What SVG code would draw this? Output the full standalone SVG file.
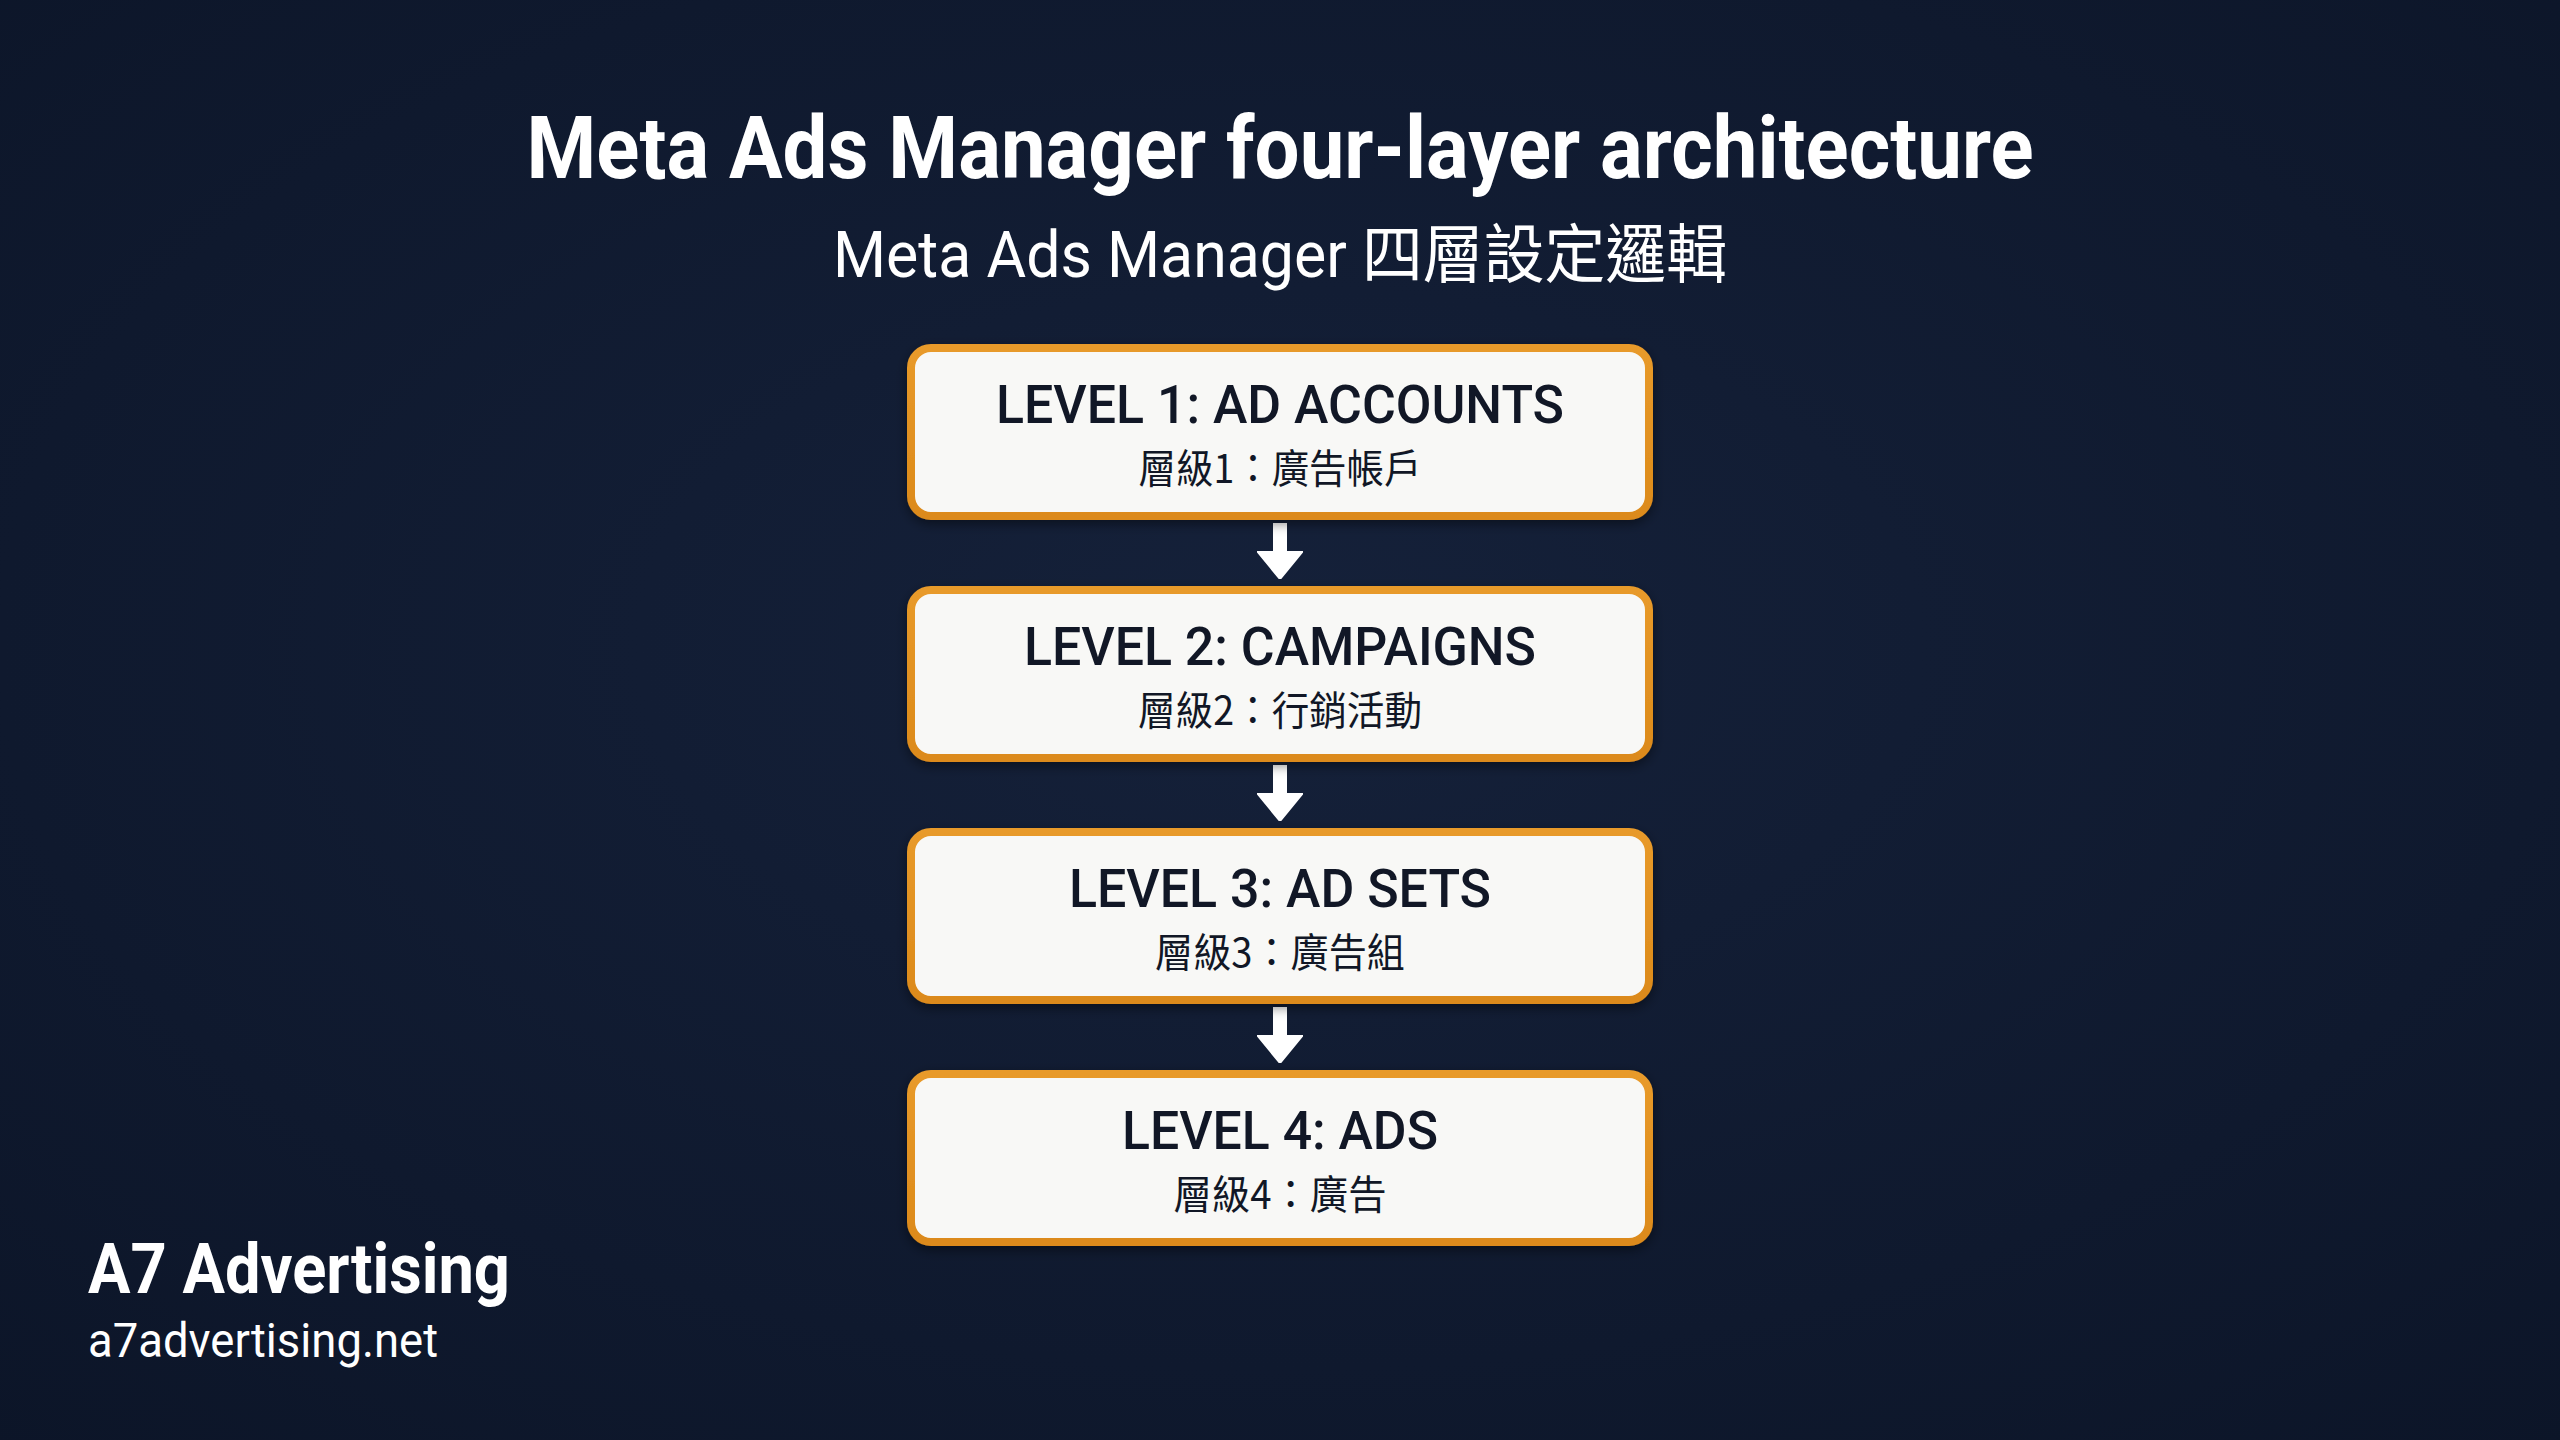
<svg xmlns="http://www.w3.org/2000/svg" width="2560" height="1440" viewBox="0 0 2560 1440">
  <defs>
    <radialGradient id="bg" cx="50%" cy="45%" r="75%">
      <stop offset="0%" stop-color="#15213A"/>
      <stop offset="100%" stop-color="#0C1528"/>
    </radialGradient>
    <linearGradient id="edge" x1="0" y1="0" x2="0" y2="1">
      <stop offset="0%" stop-color="#E89A2A"/>
      <stop offset="100%" stop-color="#DC8A1A"/>
    </linearGradient>
    <filter id="shadow" x="-10%" y="-20%" width="120%" height="140%">
      <feDropShadow dx="0" dy="4" stdDeviation="6" flood-color="#000000" flood-opacity="0.45"/>
    </filter>
    <marker id="arrowhead" viewBox="0 0 28 46" refX="2" refY="23" markerWidth="28" markerHeight="46" markerUnits="userSpaceOnUse" orient="auto">
      <path d="M0,0 L28,23 L0,46 Z" fill="#FFFFFF" stroke="#FFFFFF" stroke-width="2" stroke-linejoin="round"/>
    </marker>
    <style>
      .title { font-family: Roboto, "Liberation Sans", "Noto Sans CJK TC", sans-serif; font-weight: 700; fill: #FFFFFF; }
      .subtitle { font-family: Roboto, "Liberation Sans", "Noto Sans CJK TC", sans-serif; font-weight: 400; fill: #FFFFFF; }
      .box { fill: #F8F8F6; stroke: url(#edge); stroke-width: 8; }
      .lvl { font-family: Roboto, "Liberation Sans", sans-serif; font-weight: 500; font-size: 54px; fill: #111726; text-anchor: middle; }
      .zh { font-family: "Noto Sans CJK TC", "Noto Sans CJK SC", sans-serif; font-weight: 400; font-size: 40px; fill: #111726; text-anchor: middle; }
      .conn { stroke: #FFFFFF; stroke-width: 14; fill: none; }
      .brand { font-family: Roboto, "Liberation Sans", sans-serif; font-weight: 700; font-size: 70px; fill: #FFFFFF; }
      .url { font-family: Roboto, "Liberation Sans", sans-serif; font-weight: 400; font-size: 48px; fill: #FFFFFF; }
    </style>
  </defs>

  <rect x="0" y="0" width="2560" height="1440" fill="url(#bg)"/>

  <g id="title">
    <text class="title" x="1280" y="178" font-size="88" text-anchor="middle" textLength="1507" lengthAdjust="spacingAndGlyphs">Meta Ads Manager four-layer architecture</text>
    <text class="subtitle" x="1280" y="277" font-size="64" text-anchor="middle" textLength="894" lengthAdjust="spacingAndGlyphs">Meta Ads Manager 四層設定邏輯</text>
  </g>

  <g id="connectors">
    <line class="conn" x1="1280" y1="523" x2="1280" y2="553" marker-end="url(#arrowhead)"/>
    <line class="conn" x1="1280" y1="765" x2="1280" y2="795" marker-end="url(#arrowhead)"/>
    <line class="conn" x1="1280" y1="1007" x2="1280" y2="1037" marker-end="url(#arrowhead)"/>
  </g>

  <g id="level1">
    <rect class="box" x="911" y="348" width="738" height="168" rx="20" filter="url(#shadow)"/>
    <text class="lvl" x="1280" y="423" textLength="568" lengthAdjust="spacingAndGlyphs">LEVEL 1: AD ACCOUNTS</text>
    <text class="zh" x="1280" y="483" textLength="283" lengthAdjust="spacingAndGlyphs">層級1：廣告帳戶</text>
  </g>

  <g id="level2">
    <rect class="box" x="911" y="590" width="738" height="168" rx="20" filter="url(#shadow)"/>
    <text class="lvl" x="1280" y="665" textLength="512" lengthAdjust="spacingAndGlyphs">LEVEL 2: CAMPAIGNS</text>
    <text class="zh" x="1280" y="725" textLength="284" lengthAdjust="spacingAndGlyphs">層級2：行銷活動</text>
  </g>

  <g id="level3">
    <rect class="box" x="911" y="832" width="738" height="168" rx="20" filter="url(#shadow)"/>
    <text class="lvl" x="1280" y="907" textLength="422" lengthAdjust="spacingAndGlyphs">LEVEL 3: AD SETS</text>
    <text class="zh" x="1280" y="967" textLength="250" lengthAdjust="spacingAndGlyphs">層級3：廣告組</text>
  </g>

  <g id="level4">
    <rect class="box" x="911" y="1074" width="738" height="168" rx="20" filter="url(#shadow)"/>
    <text class="lvl" x="1280" y="1149" textLength="316" lengthAdjust="spacingAndGlyphs">LEVEL 4: ADS</text>
    <text class="zh" x="1280" y="1209" textLength="213" lengthAdjust="spacingAndGlyphs">層級4：廣告</text>
  </g>

  <g id="brand">
    <text class="brand" x="88" y="1293" textLength="422" lengthAdjust="spacingAndGlyphs">A7 Advertising</text>
    <text class="url" x="88" y="1357" textLength="350" lengthAdjust="spacingAndGlyphs">a7advertising.net</text>
  </g>
</svg>
